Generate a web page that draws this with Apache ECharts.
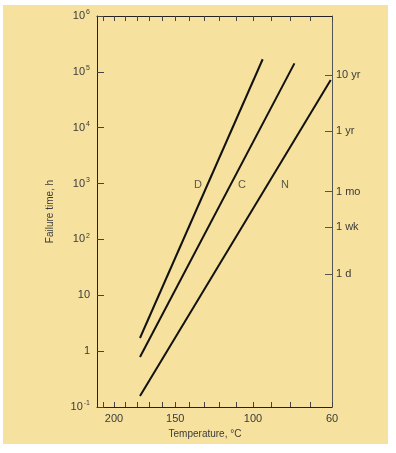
<!DOCTYPE html>
<html>
<head>
<meta charset="utf-8">
<script src="https://cdn.jsdelivr.net/npm/echarts@6/dist/echarts.min.js"></script>
<style>
  html, body { margin: 0; padding: 0; background: #ffffff; }
  #bg { position: absolute; left: 3px; top: 5px; width: 385px; height: 439px; background: #F6E29E; }
  #chart { position: absolute; left: 0; top: 0; width: 396px; height: 453px; }
</style>
</head>
<body>
<div id="bg"></div>
<div id="chart"></div>
<script>
// ---- data (temperature in °C, failure time in hours) ----
const seriesNames = ['D', 'C', 'N'];
const tempD = [177.4, 94.6];
const hoursD = [1.72, 168000];
const tempC = [177.4, 77.9];
const hoursC = [0.785, 142000];
const tempN = [177.4, 60.6];
const hoursN = [0.157, 71500];

const labelTemps = [134, 106.3, 82.7];
const labelHours = [940, 940, 940];

const xTickTemps = [210, 200, 190, 180, 170, 160, 150, 140, 130, 120, 110, 100, 90, 80, 70, 60];
const xLabelTemps = [200, 150, 100, 60];
const yTickValues = [0.1, 1, 10, 100, 1000, 10000, 100000, 1000000];
const rightTickHours = [24, 168, 720, 8760, 87600];
const rightTickLabels = ['1 d', '1 wk', '1 mo', '1 yr', '10 yr'];

const xMinT = 216, xMaxT = 60;
const yMin = 0.1, yMax = 1000000;

// reciprocal absolute temperature scale (Arrhenius)
const toU = t => 1000 / (t + 273.15);
const toT = u => 1000 / u - 273.15;

const temps = [tempD, tempC, tempN];
const hours = [hoursD, hoursC, hoursN];

const textColor = '#3a3a3a';
const font = 'Liberation Sans, Arial, sans-serif';

function yLabel(v) {
  const e = Math.round(Math.log10(v));
  if (e === 0) return '1';
  if (e === 1) return '10';
  return '10{s|' + (e < 0 ? '-1' : e) + '}';
}

const chart = echarts.init(document.getElementById('chart'), null, { renderer: 'canvas' });

const lineSeries = seriesNames.map((name, i) => ({
  name: name,
  type: 'line',
  xAxisIndex: 0,
  yAxisIndex: 0,
  showSymbol: false,
  silent: true,
  lineStyle: { color: '#111', width: 2 },
  data: temps[i].map((t, k) => [toU(t), hours[i][k]])
}));

const labelSeries = {
  type: 'scatter',
  xAxisIndex: 0,
  yAxisIndex: 0,
  symbolSize: 0,
  silent: true,
  label: {
    show: true,
    position: 'inside',
    formatter: p => seriesNames[p.dataIndex],
    color: '#333',
    fontSize: 11,
    fontFamily: font
  },
  data: labelTemps.map((t, k) => [toU(t), labelHours[k]])
};

chart.setOption({
  backgroundColor: 'transparent',
  animation: false,
  grid: { left: 97, right: 64, top: 16, bottom: 46, containLabel: false },
  xAxis: [
    {
      type: 'value',
      position: 'bottom',
      min: toU(xMinT),
      max: toU(xMaxT),
      name: 'Temperature, °C',
      nameLocation: 'middle',
      nameGap: 21,
      nameTextStyle: { color: textColor, fontSize: 10, fontFamily: font, padding: [0, 19, 0, 0] },
      axisLine: { show: true, lineStyle: { color: '#222', width: 1 } },
      axisTick: { show: true, inside: true, length: 5, lineStyle: { color: '#444' },
                  customValues: xTickTemps.map(toU) },
      axisLabel: { show: true, color: textColor, fontSize: 11, fontFamily: font, margin: 6,
                   customValues: xLabelTemps.map(toU),
                   formatter: v => String(Math.round(toT(v))) },
      splitLine: { show: false }
    },
    {
      type: 'value',
      position: 'top',
      min: toU(xMinT),
      max: toU(xMaxT),
      axisLine: { show: true, onZero: false, lineStyle: { color: '#222', width: 1 } },
      axisTick: { show: true, inside: true, length: 5, lineStyle: { color: '#444' },
                  customValues: xTickTemps.map(toU) },
      axisLabel: { show: false },
      splitLine: { show: false }
    }
  ],
  yAxis: [
    {
      type: 'log',
      logBase: 10,
      position: 'left',
      min: yMin,
      max: yMax,
      name: 'Failure time, h',
      nameLocation: 'middle',
      nameGap: 42,
      nameTextStyle: { color: textColor, fontSize: 10, fontFamily: font },
      axisLine: { show: true, lineStyle: { color: '#222', width: 1 } },
      axisTick: { show: true, inside: true, length: 7, lineStyle: { color: '#444' },
                  customValues: yTickValues },
      axisLabel: { show: true, color: textColor, fontSize: 11, fontFamily: font, margin: 7,
                   customValues: yTickValues,
                   formatter: yLabel,
                   rich: { s: { fontSize: 7, color: textColor, fontFamily: font, padding: [0, 0, 7, 1] } } },
      splitLine: { show: false }
    },
    {
      type: 'log',
      logBase: 10,
      position: 'right',
      min: yMin,
      max: yMax,
      axisLine: { show: true, lineStyle: { color: '#555', width: 1 } },
      axisTick: { show: true, inside: true, length: 7, lineStyle: { color: '#555' },
                  customValues: rightTickHours },
      axisLabel: { show: true, color: textColor, fontSize: 11, fontFamily: font, margin: 4,
                   customValues: rightTickHours,
                   formatter: v => {
                     let best = 0;
                     rightTickHours.forEach((h, k) => { if (Math.abs(Math.log10(h) - Math.log10(v)) < Math.abs(Math.log10(rightTickHours[best]) - Math.log10(v))) best = k; });
                     return rightTickLabels[best];
                   } },
      splitLine: { show: false }
    }
  ],
  series: lineSeries.concat([labelSeries])
});
</script>
</body>
</html>
